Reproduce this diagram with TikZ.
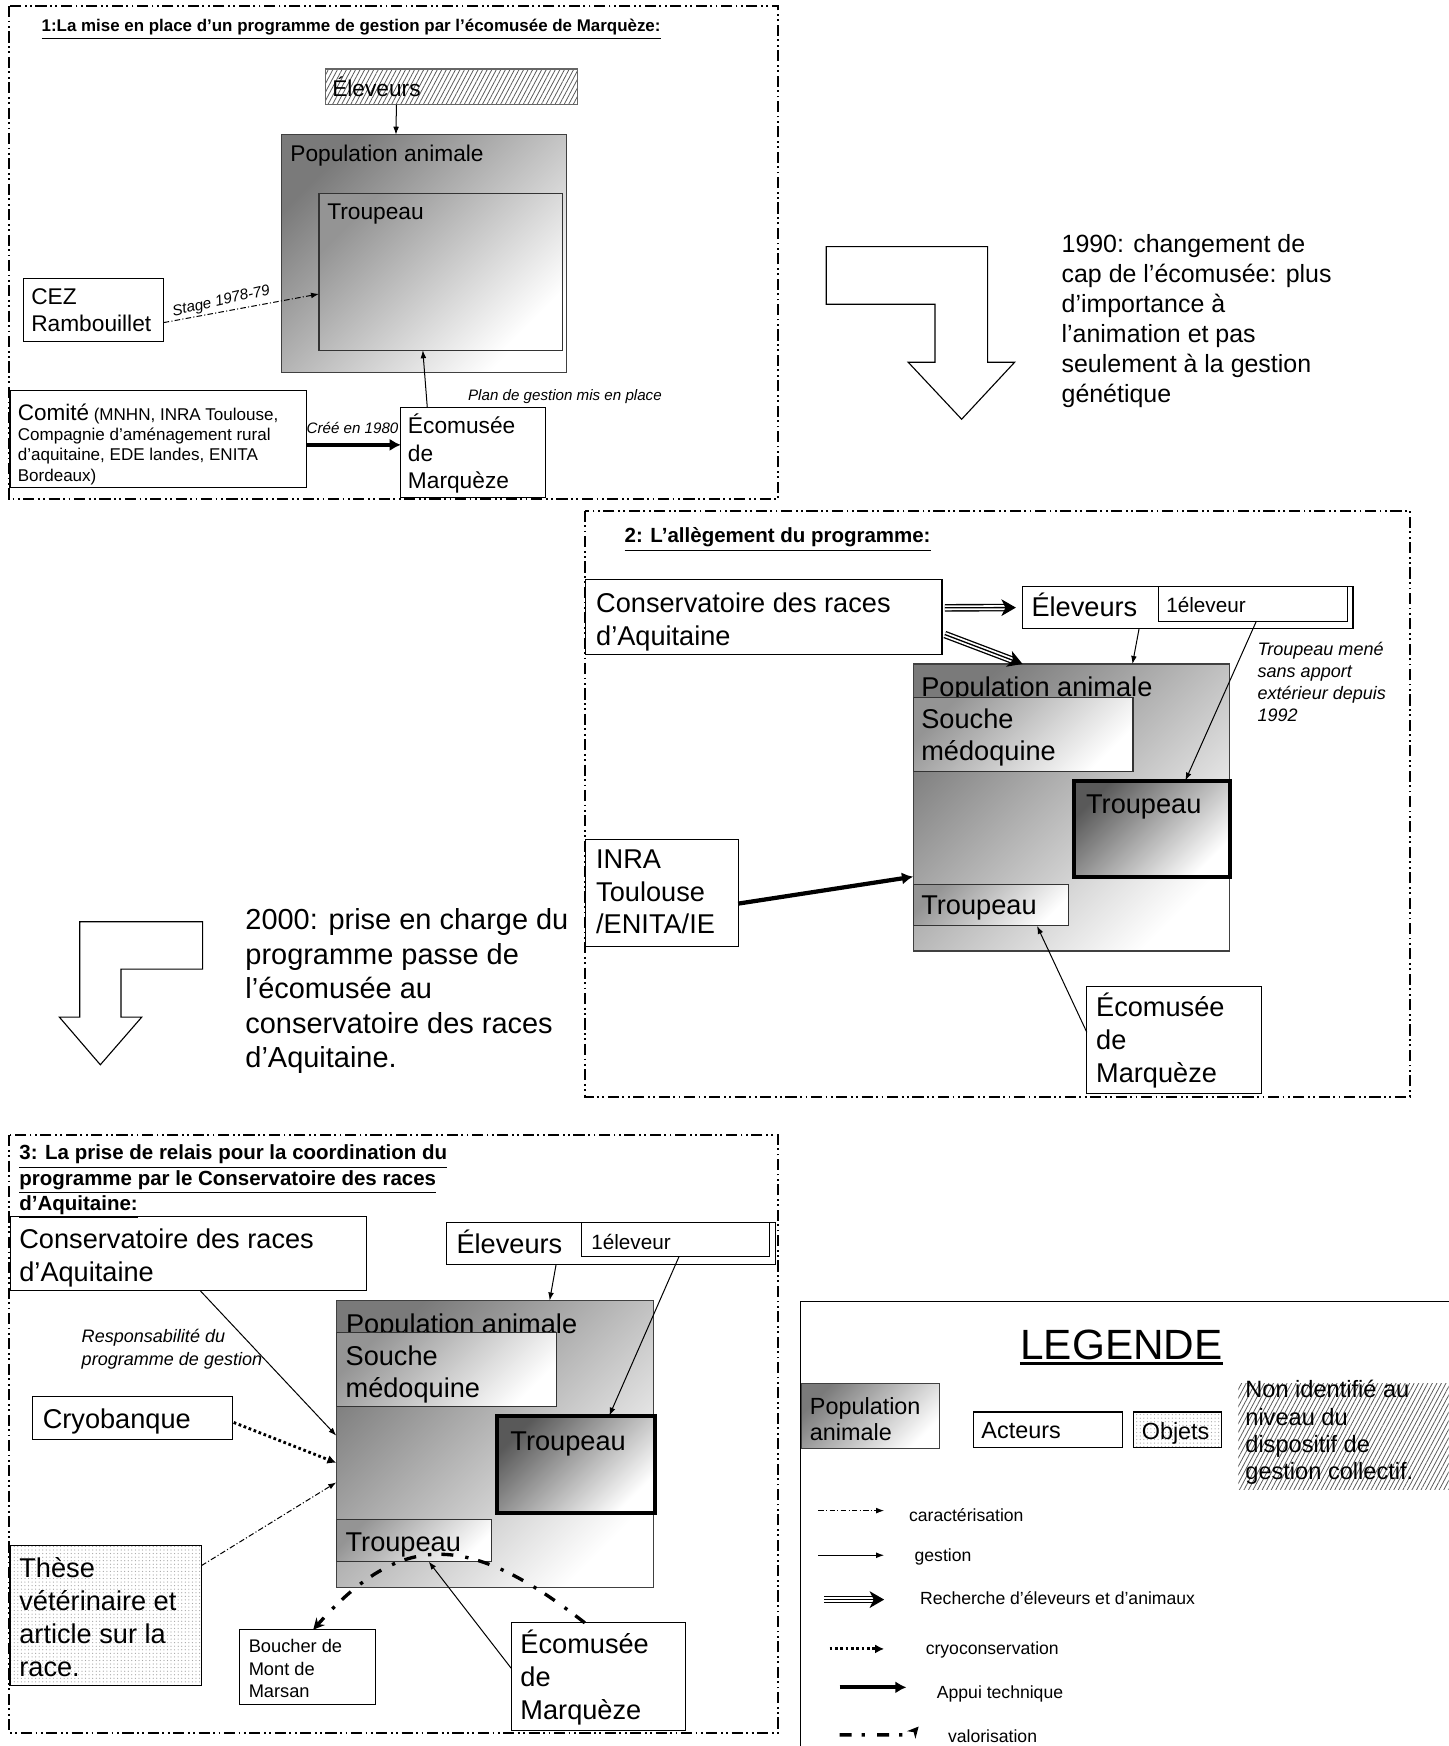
\documentclass[tikz,border=0pt]{standalone}
\usepackage{fontspec}
\setmainfont{Liberation Sans}
\usetikzlibrary{fit,calc,arrows.meta,patterns.meta}
\newcommand{\myfs}[2]{\fontsize{#1pt}{#2pt}\selectfont}
\newcommand{\triplearrow}[2]{%
  \draw[line width=3.4pt, shorten >=4pt] #1 -- #2;
  \draw[white, line width=2.2pt, shorten >=4pt] #1 -- #2;
  \draw[line width=0.6pt, -{Stealth[length=6.5pt,width=7.5pt,inset=1.8pt]}] #1 -- #2;
}
\begin{document}
\begin{tikzpicture}[x=0.5pt,y=-0.5pt,
  bx/.style={draw, inner sep=0pt, outer sep=0pt, line width=0.5pt},
  t/.style={anchor=north west, inner sep=0pt, align=left},
  panel/.style={line width=0.9pt, dash pattern=on 5pt off 1.6pt on 0.8pt off 1.6pt on 0.8pt off 1.6pt},
  pop/.style={bx, draw=black!75, top color=black!52, bottom color=white, shading angle=45},
  sub/.style={bx, draw=black!80, top color=black!42, bottom color=white, shading angle=45},
  thk/.style={bx, line width=1.8pt, top color=black!65, bottom color=white, shading angle=45},
  hatch/.style={pattern={Lines[angle=62,distance=1.8pt,line width=0.35pt]}, pattern color=black!65},
  dotsf/.style={pattern={Dots[distance=1.6pt,radius=0.28pt]}, pattern color=black!35},
  gest/.style={line width=0.45pt, -{Latex[length=3.6pt,width=2.6pt]}},
  cara/.style={gest, dash pattern=on 2.5pt off 1pt on 0.5pt off 1pt},
  cryo/.style={line width=1.3pt, dash pattern=on 1.2pt off 1.2pt, -{Latex[length=4pt,width=4pt]}},
  appui/.style={line width=1.9pt, -{Latex[length=5pt,width=5.5pt]}},
  valor/.style={line width=1.5pt, dash pattern=on 5.4pt off 4.5pt on 1.5pt off 5.4pt, -{Stealth[length=5pt,width=5pt]}},
  bigarrow/.style={draw, fill=white, line width=0.5pt, line join=miter},
  fmain/.style={font=\myfs{12.2}{14.5}},
  fone/.style={font=\myfs{10.2}{12.2}},
  fital/.style={font=\itshape\myfs{8.1}{9.9}},
  fsmall/.style={font=\itshape\myfs{6.8}{8}},
  flab/.style={font=\myfs{7.9}{9.5}},
]
\useasboundingbox (0,0) rectangle (1301,1568);
\fill[white] (0,0) rectangle (1301,1568);

%================ PANEL 1 ================
\draw[panel] (8,5.4) rectangle (699,448.5);
\node[t, font=\bfseries\myfs{7.6}{9}] at (37,16.9) {\underline{1:La mise en place d’un programme de gestion par l’écomusée de Marquèze:}};
\node[bx, draw=black!60, hatch, fit={(292,62) (519,94)}] (ele1) {};
\node[t, fone] at (298,68.6) {Éleveurs};
\node[pop, fit={(253,121) (509,334.5)}] (pop1) {};
\node[t, fone] at (260.4,129.7) {Population animale};
\node[sub, fit={(286.5,173.5) (505,314.5)}] (tro1) {};
\node[t, fone] at (293.5,182.7) {Troupeau};
\node[bx, fit={(21,250.5) (147,306.5)}] (cez) {};
\node[t, fone] at (27.7,259.1) {CEZ\\Rambouillet};
\node[bx, fit={(9,351) (275,438)}] (com) {};
\node[t, font=\myfs{7.65}{9}] at (15.6,362.7) {{\myfs{10.1}{9}Comité} (MNHN, INRA Toulouse,\\Compagnie d’aménagement rural\\d’aquitaine, EDE landes, ENITA\\Bordeaux)};
\node[bx, fit={(360,365.6) (490,446.4)}] (eco1) {};
\node[t, fone] at (366,371.6) {Écomusée\\de\\Marquèze};

\draw[gest] ($(ele1.south west)+(64,0)$) -- ($(pop1.north west)+(102.6,0)$);
\draw[cara] ($(cez.north east)+(0,39.2)$) -- ($(tro1.north west)+(0,90.5)$);
\node[fsmall, rotate=12.6, inner sep=0pt] at (198.7,270.8) {Stage 1978-79};
\draw[appui] ($(com.east)+(0,5)$) -- ($(eco1.west)+(0,-6.5)$);
\node[t, fsmall] at (275,379.1) {Créé en 1980};
\draw[gest] ($(eco1.north west)+(23.7,0)$) -- ($(tro1.south west)+(93.2,0)$);
\node[t, fsmall] at (420,349.1) {Plan de gestion mis en place};

%================ TRANSITION 1 ================
\draw[bigarrow] (742,221.5) -- (886.9,221.5) -- (886.9,325.3) -- (911.2,325.3) -- (863.6,376.5) -- (815.6,325.3) -- (839.7,325.3) -- (839.7,273.2) -- (742,273.2) -- cycle;
\node[t, font=\myfs{11.2}{13.5}] at (953,209.9) {1990: changement de\\cap de l’écomusée: plus\\d’importance à\\l’animation et pas\\seulement à la gestion\\génétique};

%================ PANEL 2 ================
\draw[panel] (525,458.6) rectangle (1266,985);
\node[t, font=\bfseries\myfs{9.2}{11}] at (560.6,473.4) {\underline{2: L’allègement du programme:}};
\node[bx, fit={(525.7,520.7) (846,588)}] (cons2) {};
\node[t, fmain] at (535,532.2) {Conservatoire des races\\d’Aquitaine};
\node[bx, fit={(918.3,527) (1215,564.3)}] (ele2) {};
\node[t, fmain] at (926,532.3) {Éleveurs};
\node[bx, fit={(1040.5,527) (1210,557.8)}] (une2) {};
\node[t, font=\myfs{9.3}{11}] at (1047,536.3) {1éleveur};
\node[pop, fit={(820,596.3) (1104.3,854)}] (pop2) {};
\node[t, fmain] at (827,607.2) {Population animale};
\node[sub, fit={(820,626.4) (1017.5,692.7)}] (sou2) {};
\node[t, fmain] at (827,636.2) {Souche\\médoquine};
\node[thk, fit={(964.7,701) (1104.3,787.3)}] (trt2) {};
\node[t, fmain] at (975,713.2) {Troupeau};
\node[sub, fit={(820,794.2) (959.7,831.5)}] (trs2) {};
\node[t, fmain] at (827,804.2) {Troupeau};
\node[bx, fit={(525.7,753.8) (662.9,850.2)}] (inra) {};
\node[t, fmain] at (535,763.2) {INRA\\Toulouse\\/ENITA/IE};
\node[bx, fit={(976,886) (1133,982)}] (eco2) {};
\node[t, font=\myfs{12.2}{14.75}] at (984,891.3) {Écomusée\\de\\Marquèze};
\node[t, fital] at (1129,576) {Troupeau mené\\sans apport\\extérieur depuis\\1992};

\triplearrow{($(cons2.east)+(2.5,-8.5)$)}{($(ele2.west)+(-6,0)$)}
\triplearrow{($(cons2.east)+(2.5,15.5)$)}{($(pop2.north west)+(98.3,0)$)}
\draw[gest] ($(ele2.south west)+(104.7,0)$) -- ($(pop2.north west)+(197,0)$);
\draw[gest] ($(une2.south west)+(87.8,0)$) -- ($(trt2.north west)+(99.8,0)$);
\draw[appui] ($(inra.east)+(0,9.5)$) -- ($(pop2.north west)+(0,191)$);
\draw[gest] ($(eco2.north west)+(0,41)$) -- ($(trs2.south west)+(111.3,0)$);

%================ TRANSITION 2 ================
\draw[bigarrow] (71.6,827.8) -- (182,827.8) -- (182,870.3) -- (108.7,870.3) -- (108.7,913.4) -- (127.3,913.4) -- (90.1,956.2) -- (53.3,913.4) -- (71.6,913.4) -- cycle;
\node[t, font=\myfs{13}{15.5}] at (220,815.6) {2000: prise en charge du\\programme passe de\\l’écomusée au\\conservatoire des races\\d’Aquitaine.};

%================ PANEL 3 ================
\draw[panel] (8,1019.5) rectangle (699,1556);
\node[t, font=\bfseries\myfs{9.2}{11.4}] at (17,1027.7) {\underline{3: La prise de relais pour la coordination du}\\\underline{programme par le Conservatoire des races}\\\underline{d’Aquitaine:}};
\node[bx, fit={(9.8,1092.5) (328.8,1159.3)}] (cons3) {};
\node[t, fmain] at (17,1103.4) {Conservatoire des races\\d’Aquitaine};
\node[bx, fit={(401,1098.2) (696.8,1135.6)}] (ele3) {};
\node[t, fmain] at (409.6,1103.9) {Éleveurs};
\node[bx, fit={(522.6,1098.2) (691.4,1128.7)}] (une3) {};
\node[t, font=\myfs{9.3}{11}] at (530.6,1107.6) {1éleveur};
\node[pop, fit={(302,1167.9) (586.5,1425.8)}] (pop3) {};
\node[t, fmain] at (310.4,1179.2) {Population animale};
\node[sub, fit={(302,1197) (499.4,1263.4)}] (sou3) {};
\node[t, fmain] at (310,1208.2) {Souche\\médoquine};
\node[thk, fit={(446.7,1271.3) (587.8,1358.6)}] (trt3) {};
\node[t, fmain] at (458,1285.2) {Troupeau};
\node[sub, fit={(302,1364.7) (441.3,1402.4)}] (trs3) {};
\node[t, fmain] at (310,1376.2) {Troupeau};
\node[bx, fit={(29,1254.4) (209,1292.9)}] (cryo) {};
\node[t, fmain] at (38,1265.2) {Cryobanque};
\node[bx, dotsf, fit={(9,1388) (180.9,1513.7)}] (these) {};
\node[t, font=\myfs{12.2}{14.8}] at (17,1398.2) {Thèse\\vétérinaire et\\article sur la\\race.};
\node[bx, fit={(215.3,1463.5) (337.2,1530.6)}] (bouch) {};
\node[t, font=\myfs{8.2}{10}] at (223,1472.1) {Boucher de\\Mont de\\Marsan};
\node[bx, fit={(459.2,1457.4) (615.5,1554.3)}] (eco3) {};
\node[t, font=\myfs{12.2}{14.75}] at (467,1463.3) {Écomusée\\de\\Marquèze};
\node[t, font=\itshape\myfs{8.1}{10.25}] at (73,1193.7) {Responsabilité du\\programme de gestion};

\draw[gest] ($(cons3.south west)+(170.2,0)$) -- ($(pop3.north west)+(0,121.4)$);
\draw[cryo] ($(cryo.east)+(0.9,3.8)$) -- ($(pop3.north west)+(0,145.8)$);
\draw[cara] ($(these.north east)+(0,18)$) -- ($(pop3.north west)+(0,163.4)$);
\draw[gest] ($(ele3.south west)+(98.4,0)$) -- ($(pop3.north west)+(191.6,0)$);
\draw[gest] ($(une3.south west)+(87.1,0)$) -- ($(trt3.north west)+(100.5,0)$);
\draw[gest] ($(eco3.north west)+(0,40.9)$) -- ($(trs3.south west)+(83,0)$);
\draw[valor] ($(eco3.north west)+(66,0)$) .. controls (420,1375) and (360,1375) .. ($(bouch.north west)+(66,0)$);

%================ LEGEND ================
\draw[line width=0.6pt] (1301,1169) -- (719,1169) -- (719,1568);
\node[t, font=\myfs{19}{22}] (legt) at (916,1194) {LEGENDE};
\draw[line width=1.3pt] ($(legt.south west)+(0,3)$) -- ($(legt.south east)+(0,3)$);
\node[pop, fit={(720,1242.6) (844,1301)}] (legpop) {};
\node[t, font=\myfs{10.5}{12}] at (727,1254.4) {Population\\animale};
\node[bx, fit={(874,1268) (1008,1300)}] (legact) {};
\node[t, font=\myfs{10.5}{12}] at (881,1277.4) {Acteurs};
\node[bx, dotsf, fit={(1018,1268) (1097,1300)}] (legobj) {};
\node[t, font=\myfs{10.5}{12}] at (1025,1277.4) {Objets};
\node[inner sep=0pt, outer sep=0pt, hatch, fit={(1112,1242) (1301,1338)}] (leghat) {};
\node[t, font=\myfs{10.6}{12.15}] at (1118,1239.4) {Non identifié au\\niveau du\\dispositif de\\gestion collectif.};

\coordinate (la1) at (735,1356.6); \coordinate (lb1) at (794,1356.6);
\coordinate (la2) at (735,1396.7); \coordinate (lb2) at (794,1396.7);
\coordinate (la3) at (740,1436.5); \coordinate (lb3) at (794,1436.5);
\coordinate (la4) at (745,1480.8); \coordinate (lb4) at (794,1480.8);
\coordinate (la5) at (754,1515.3); \coordinate (lb5) at (814,1515.3);
\coordinate (la6) at (754,1558);   \coordinate (lm6) at (812,1558); \coordinate (lb6) at (825,1550.5);
\draw[cara] (la1) -- (lb1);
\draw[gest] (la2) -- (lb2);
\triplearrow{(la3)}{(lb3)}
\draw[cryo] (la4) -- (lb4);
\draw[appui] (la5) -- (lb5);
\draw[valor] (la6) -- (lm6) .. controls (818,1558) and (821,1555) .. (lb6);
\node[t, flab] at (816,1354.5) {caractérisation};
\node[t, flab] at (821,1390.3) {gestion};
\node[t, flab] at (826,1429.3) {Recherche d’éleveurs et d’animaux};
\node[t, flab] at (831,1474.3) {cryoconservation};
\node[t, flab] at (841,1513.1) {Appui technique};
\node[t, flab] at (851,1552.7) {valorisation};
\end{tikzpicture}
\end{document}
